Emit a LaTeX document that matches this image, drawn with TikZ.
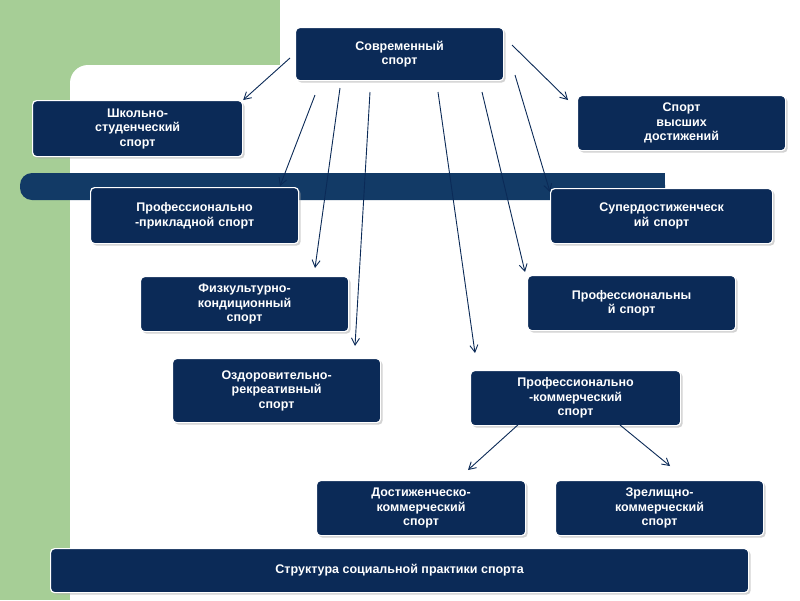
\documentclass[tikz,border=0pt]{standalone}
\usepackage{fontspec}
\setmainfont{Liberation Sans}
\usetikzlibrary{arrows.meta,shadows}
\definecolor{navy}{HTML}{0B2A57}
\definecolor{bgreen}{HTML}{A6CE96}
\definecolor{barblue}{HTML}{123A66}
\begin{document}
\begin{tikzpicture}[x=1pt,y=-1pt,
  box/.style={draw=white,line width=1.2pt,fill=navy,rounded corners=4pt,text=white,font=\bfseries\fontsize{12.5}{14.5}\selectfont,align=center,
    drop shadow={shadow xshift=2pt,shadow yshift=-2pt,fill=gray!70}},
  arr/.style={draw=navy,line width=0.9pt,-{Straight Barb[length=7pt,width=8pt]}}]
\useasboundingbox (0,0) rectangle (800,600);
\fill[white] (0,0) rectangle (800,600);
\fill[bgreen] (0,0) rectangle (280,600);
\fill[white,rounded corners=18pt] (70,65) rectangle (820,620);
\fill[white] (280,0) rectangle (800,70);
\fill[white] (100,600) rectangle (800,70);
\fill[barblue,rounded corners=12pt] (20,173) rectangle (665,200);
\fill[barblue] (600,173) rectangle (665,200);
\newcommand{\bx}[6]{\node[box,minimum width=#4pt,minimum height=#5pt,text width=#4pt-8pt,anchor=north west,inner sep=0pt] (#1) at (#2,#3) {#6};}
\bx{top}{295}{27}{208}{53}{Современный\\спорт}
\bx{sh}{32}{100}{210}{56}{Школьно-\\студенческий\\спорт}
\bx{vd}{577}{95}{208}{55}{Спорт\\высших\\достижений}
\bx{pp}{90}{187}{208}{56}{Профессионально\\-прикладной спорт}
\bx{sd}{550}{188}{222}{55}{Супердостиженческ\\ий  спорт}
\bx{fk}{140}{276}{208}{55}{Физкультурно-\\кондиционный\\спорт}
\bx{pr}{527}{275}{208}{55}{Профессиональны\\й спорт}
\bx{oz}{172}{358}{208}{64}{Оздоровительно-\\рекреативный\\спорт}
\bx{pk}{470}{370}{210}{55}{Профессионально\\-коммерческий\\спорт}
\bx{dk}{316}{480}{209}{55}{Достиженческо-\\коммерческий\\спорт}
\bx{zk}{555}{480}{208}{55}{Зрелищно-\\коммерческий\\спорт}
\node[box,minimum width=698pt,minimum height=44pt,anchor=north west,inner sep=0pt] (st) at (50,548) {Структура социальной практики спорта};
\coordinate (a1) at (290,58); \coordinate (a2) at (315,95); \coordinate (a3) at (340,88);
\coordinate (a4) at (370,92); \coordinate (a5) at (438,92); \coordinate (a6) at (482,92);
\coordinate (a7) at (515,75); \coordinate (a8) at (512,45);
\coordinate (a9) at (520,423); \coordinate (a10) at (620,425);
\draw[arr] (a1) -- (sh.north east);
\draw[arr] (a2) -- (280,186);
\draw[arr] (a3) -- (315,268);
\draw[arr] (a4) -- (355,346);
\draw[arr] (a5) -- (475,353);
\draw[arr] (a6) -- (525,272);
\draw[arr] (a7) -- (550,192);
\draw[arr] (a8) -- (568,100);
\draw[arr] (a9) -- (468,470);
\draw[arr] (a10) -- (670,466);
\end{tikzpicture}
\end{document}
